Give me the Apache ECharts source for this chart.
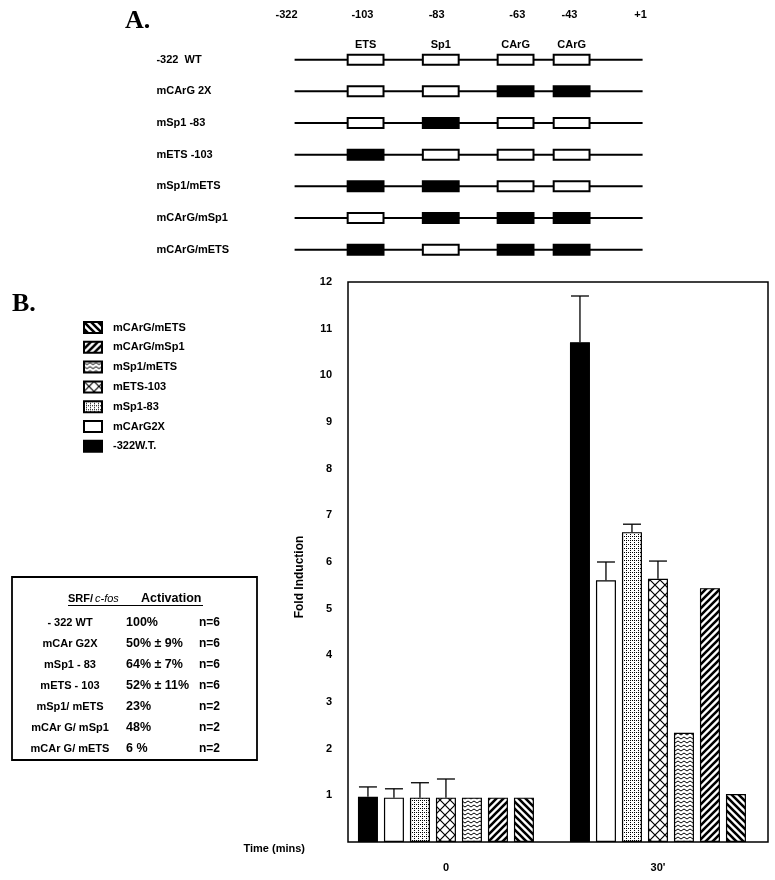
<!DOCTYPE html>
<html>
<head>
<meta charset="utf-8">
<script src="https://cdn.jsdelivr.net/npm/echarts@6/dist/echarts.min.js"></script>
<style>
  html, body { margin: 0; padding: 0; background: #fff; }
  #main { width: 775px; height: 880px; }
</style>
</head>
<body>
<div id="main"></div>
<script>
// ---- panel A : promoter constructs ----
const rowNames = ['-322  WT', 'mCArG 2X', 'mSp1 -83', 'mETS -103', 'mSp1/mETS', 'mCArG/mSp1', 'mCArG/mETS']
// 1 = mutated site (black box), order: ETS, Sp1, CArG, CArG
const mutated = [[0, 0, 0, 0], [0, 0, 1, 1], [0, 1, 0, 0], [1, 0, 0, 0], [1, 1, 0, 0], [0, 1, 1, 1], [1, 0, 1, 1]]
const siteLabels = ['-322', '-103', '-83', '-63', '-43', '+1']
const siteLabelPos = [-2.3, 19.5, 40.8, 64, 79, 99.4]
const elementNames = ['ETS', 'Sp1', 'CArG', 'CArG']
const elementPos = [20.4, 42, 63.5, 79.6]

// ---- panel B : fold induction ----
const timeCats = ['0', '30\'']
const seriesNames = ['-322W.T.', 'mCArG2X', 'mSp1-83', 'mETS-103', 'mSp1/mETS', 'mCArG/mSp1', 'mCArG/mETS']
const fold0 = [0.97, 0.95, 0.95, 0.95, 0.95, 0.95, 0.95]
const fold30 = [10.71, 5.61, 6.64, 5.64, 2.34, 5.44, 1.03]
const errTop0 = [1.18, 1.14, 1.27, 1.35, null, null, null]
const errTop30 = [11.70, 6.0, 6.81, 6.02, null, null, null]
const legendOrder = ['mCArG/mETS', 'mCArG/mSp1', 'mSp1/mETS', 'mETS-103', 'mSp1-83', 'mCArG2X', '-322W.T.']

// ---- table ----
const tableNames = ['- 322 WT', 'mCAr G2X', 'mSp1 - 83', 'mETS - 103', 'mSp1/ mETS', 'mCAr G/ mSp1', 'mCAr G/ mETS']
const tableActivation = ['100%', '50% ± 9%', '64% ± 7%', '52% ± 11%', '23%', '48%', '6 %']
const tableN = ['n=6', 'n=6', 'n=6', 'n=6', 'n=2', 'n=2', 'n=2']

const FONT = 'Liberation Sans, Arial, Helvetica, sans-serif'
const BOLD11 = 'bold 11px ' + FONT
const BOLD12 = 'bold 12px ' + FONT

function pattern (w, h, draw) {
  const c = document.createElement('canvas')
  c.width = w
  c.height = h
  const g = c.getContext('2d')
  g.fillStyle = '#fff'
  g.fillRect(0, 0, w, h)
  g.fillStyle = '#000'
  g.strokeStyle = '#000'
  draw(g)
  return { image: c, repeat: 'repeat' }
}

const fills = [
  '#000',
  '#fff',
  // fine stipple
  pattern(4, 4, g => { g.fillRect(0, 0, 1, 1); g.fillRect(2, 2, 1, 1); g.fillRect(2, 0, 1, 1) }),
  // diagonal lattice
  pattern(10, 10, g => {
    g.lineWidth = 1.2
    g.beginPath()
    g.moveTo(0, 0); g.lineTo(10, 10)
    g.moveTo(10, 0); g.lineTo(0, 10)
    g.stroke()
  }),
  // zigzag waves
  pattern(6, 4, g => {
    g.lineWidth = 1
    g.beginPath()
    g.moveTo(0, 1); g.lineTo(3, 3); g.lineTo(6, 1)
    g.stroke()
  }),
  // thick "/" stripes
  pattern(7, 7, g => {
    g.lineWidth = 2.6
    g.beginPath()
    g.moveTo(-1, 8); g.lineTo(8, -1)
    g.moveTo(-1, 1); g.lineTo(1, -1)
    g.moveTo(6, 8); g.lineTo(8, 6)
    g.stroke()
  }),
  // thick "\" stripes
  pattern(7, 7, g => {
    g.lineWidth = 2.6
    g.beginPath()
    g.moveTo(-1, -1); g.lineTo(8, 8)
    g.moveTo(6, -1); g.lineTo(8, 1)
    g.moveTo(-1, 6); g.lineTo(1, 8)
    g.stroke()
  })
]

const BAR_W = 20
const PITCH = 26

const chart = echarts.init(document.getElementById('main'))

const barSeries = seriesNames.map((name, i) => ({
  name: name,
  type: 'bar',
  xAxisIndex: 1,
  yAxisIndex: 1,
  barWidth: BAR_W,
  barGap: '30%',
  itemStyle: { color: fills[i], borderColor: '#000', borderWidth: 1.2 },
  data: [[0, fold0[i]], [1, fold30[i]]]
}))

const errData = []
seriesNames.forEach((name, i) => {
  if (errTop0[i] != null) errData.push([0, fold0[i], errTop0[i], i])
  if (errTop30[i] != null) errData.push([1, fold30[i], errTop30[i], i])
})

const option = {
  animation: false,
  backgroundColor: '#fff',
  grid: [
    { left: 138, top: 9, width: 522, height: 253.3 },
    { left: 348, top: 282, width: 420, height: 560, show: true, borderColor: '#000', borderWidth: 1.5, backgroundColor: 'transparent' }
  ],
  xAxis: [
    { gridIndex: 0, type: 'value', min: -45, max: 105, show: false },
    {
      gridIndex: 1,
      type: 'value',
      min: -0.462,
      max: 1.519,
      axisLine: { show: false },
      axisTick: { show: false },
      splitLine: { show: false },
      axisLabel: {
        customValues: [0, 1],
        formatter: v => timeCats[Math.round(v)],
        color: '#000', fontWeight: 'bold', fontSize: 11, fontFamily: FONT, margin: 20
      }
    }
  ],
  yAxis: [
    { gridIndex: 0, type: 'value', min: -1.6, max: 6.4, inverse: true, show: false },
    {
      gridIndex: 1,
      type: 'value',
      min: 0,
      max: 12,
      interval: 1,
      axisLine: { show: false },
      axisTick: { show: false },
      splitLine: { show: false },
      axisLabel: {
        color: '#000', fontWeight: 'bold', fontSize: 11, fontFamily: FONT, margin: 16,
        formatter: v => (v === 0 ? '' : String(v))
      }
    }
  ],
  legend: {
    data: legendOrder,
    orient: 'vertical',
    left: 83,
    top: 321,
    padding: 0,
    itemWidth: 18,
    itemHeight: 11,
    itemGap: 6.8,
    icon: 'rect',
    selectedMode: false,
    textStyle: { color: '#000', fontWeight: 'bold', fontSize: 11, fontFamily: FONT, lineHeight: 12, padding: [0, 0, 0, 6] }
  },
  series: [
    {
      type: 'custom',
      xAxisIndex: 0,
      yAxisIndex: 0,
      silent: true,
      data: rowNames.map((n, r) => [r]),
      renderItem: function (params, api) {
        const row = api.value(0)
        const a = api.coord([0, row])
        const b = api.coord([100, row])
        const unit = api.size([1, 0])[0]
        const w = 10.3 * unit
        const children = [{
          type: 'line',
          shape: { x1: a[0], y1: a[1], x2: b[0], y2: b[1] },
          style: { stroke: '#000', lineWidth: 2 }
        }]
        elementPos.forEach((p, k) => {
          const c = api.coord([p, row])
          children.push({
            type: 'rect',
            shape: { x: c[0] - w / 2, y: c[1] - 5, width: w, height: 10 },
            style: { fill: mutated[row][k] ? '#000' : '#fff', stroke: '#000', lineWidth: 2 }
          })
        })
        const t = api.coord([-39.7, row])
        children.push({
          type: 'text',
          x: t[0],
          y: t[1],
          style: { text: rowNames[row], font: BOLD11, fill: '#000', align: 'left', verticalAlign: 'middle' }
        })
        return { type: 'group', children: children }
      }
    },
    {
      type: 'custom',
      xAxisIndex: 0,
      yAxisIndex: 0,
      silent: true,
      data: [0],
      renderItem: function (params, api) {
        const children = []
        siteLabels.forEach((s, k) => {
          const c = api.coord([siteLabelPos[k], -1.42])
          children.push({ type: 'text', x: c[0], y: c[1], style: { text: s, font: BOLD11, fill: '#000', align: 'center', verticalAlign: 'middle' } })
        })
        elementNames.forEach((s, k) => {
          const c = api.coord([elementPos[k], -0.47])
          children.push({ type: 'text', x: c[0], y: c[1], style: { text: s, font: BOLD11, fill: '#000', align: 'center', verticalAlign: 'middle' } })
        })
        return { type: 'group', children: children }
      }
    }
  ].concat(barSeries).concat([
    {
      type: 'custom',
      xAxisIndex: 1,
      yAxisIndex: 1,
      silent: true,
      z: 5,
      data: errData,
      renderItem: function (params, api) {
        const base = api.coord([api.value(0), api.value(1)])
        const top = api.coord([api.value(0), api.value(2)])
        const x = base[0] + (api.value(3) - 3) * PITCH
        return {
          type: 'group',
          children: [
            { type: 'line', shape: { x1: x, y1: base[1], x2: x, y2: top[1] }, style: { stroke: '#000', lineWidth: 1.3 } },
            { type: 'line', shape: { x1: x - 9, y1: top[1], x2: x + 9, y2: top[1] }, style: { stroke: '#000', lineWidth: 1.3 } }
          ]
        }
      }
    }
  ]),
  graphic: [
    { type: 'text', left: 125, top: 8, style: { text: 'A.', font: 'bold 26px Liberation Serif, Times New Roman, serif', fill: '#000' } },
    { type: 'text', left: 12, top: 291, style: { text: 'B.', font: 'bold 26px Liberation Serif, Times New Roman, serif', fill: '#000' } },
    {
      type: 'text', x: 300, y: 577, rotation: Math.PI / 2,
      style: { text: 'Fold Induction', font: BOLD12, fill: '#000', align: 'center', verticalAlign: 'middle', textAlign: 'center', textVerticalAlign: 'middle' }
    },
    {
      type: 'text', x: 305, y: 849,
      style: { text: 'Time (mins)', font: BOLD11, fill: '#000', align: 'right', verticalAlign: 'middle', textAlign: 'right', textVerticalAlign: 'middle' }
    },
    // table
    { type: 'rect', shape: { x: 12, y: 577, width: 245, height: 183 }, style: { fill: 'none', stroke: '#000', lineWidth: 1.8 } },
    { type: 'text', x: 68, y: 599, style: { text: 'SRF/', font: BOLD11, fill: '#000', verticalAlign: 'middle', textVerticalAlign: 'middle' } },
    { type: 'text', x: 95, y: 599, style: { text: 'c-fos', font: 'italic 11px ' + FONT, fill: '#000', verticalAlign: 'middle', textVerticalAlign: 'middle' } },
    { type: 'text', x: 141, y: 599, style: { text: 'Activation', font: 'bold 12.5px ' + FONT, fill: '#000', verticalAlign: 'middle', textVerticalAlign: 'middle' } },
    { type: 'line', shape: { x1: 68, y1: 605.5, x2: 203, y2: 605.5 }, style: { stroke: '#000', lineWidth: 1 } }
  ].concat(tableNames.map((s, r) => ({
    type: 'text', x: 70, y: 623 + r * 21,
    style: { text: s, font: BOLD11, fill: '#000', align: 'center', verticalAlign: 'middle', textAlign: 'center', textVerticalAlign: 'middle' }
  }))).concat(tableActivation.map((s, r) => ({
    type: 'text', x: 126, y: 623 + r * 21,
    style: { text: s, font: 'bold 12.5px ' + FONT, fill: '#000', verticalAlign: 'middle', textVerticalAlign: 'middle' }
  }))).concat(tableN.map((s, r) => ({
    type: 'text', x: 199, y: 623 + r * 21,
    style: { text: s, font: BOLD12, fill: '#000', verticalAlign: 'middle', textVerticalAlign: 'middle' }
  })))
}

chart.setOption(option)
</script>
</body>
</html>
